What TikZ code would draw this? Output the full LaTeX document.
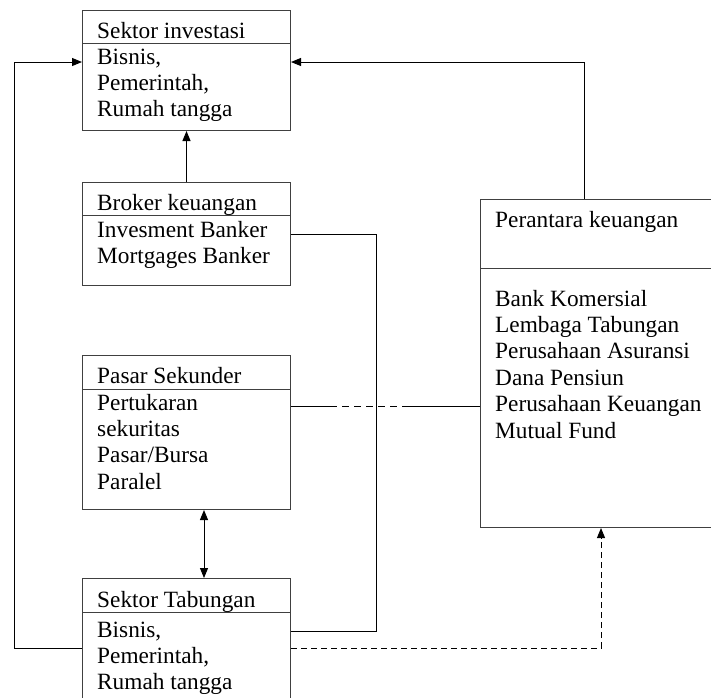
\documentclass[tikz,border=0pt]{standalone}
\usepackage{fontspec}
\setmainfont{Liberation Serif}
\usetikzlibrary{arrows.meta}
\begin{document}
\begin{tikzpicture}[x=1pt,y=-1pt,
  box/.style={draw=black!75, line width=1pt, inner sep=0pt, anchor=north west},
  txt/.style={anchor=base west, inner sep=0pt, font=\fontsize{23.3}{26.4}\selectfont},
  conn/.style={draw=black, line width=1pt},
  arr/.style={conn, -{Triangle[length=10pt,width=8pt]}},
  darr/.style={conn, {Triangle[length=10pt,width=8pt]}-{Triangle[length=10pt,width=8pt]}},
  dsh/.style={conn, dash pattern=on 6pt off 4pt}]
\clip (0,0) rectangle (711,697);
\fill[white] (0,0) rectangle (711,697);
% boxes
\node[box, minimum width=208pt, minimum height=120pt] (inv) at (82,10) {};
\node[box, minimum width=208pt, minimum height=103pt] (broker) at (82,182) {};
\node[box, minimum width=208pt, minimum height=154pt] (pasar) at (82,355) {};
\node[box, minimum width=208pt, minimum height=130pt] (tab) at (82,578) {};
\node[box, minimum width=235pt, minimum height=328pt] (per) at (480,199) {};
% dividers
\draw[draw=black!75, line width=1pt] (inv.west |- 0,43) -- (inv.east |- 0,43);
\draw[draw=black!75, line width=1pt] (broker.west |- 0,215) -- (broker.east |- 0,215);
\draw[draw=black!75, line width=1pt] (pasar.west |- 0,389) -- (pasar.east |- 0,389);
\draw[draw=black!75, line width=1pt] (tab.west |- 0,612) -- (tab.east |- 0,612);
\draw[draw=black!75, line width=1pt] (per.west |- 0,268) -- (per.east |- 0,268);
% texts
\node[txt] (invT) at (97,38) {Sektor investasi};
\node[txt] (invB1) at (97,64) {Bisnis,};
\node[txt] (invB2) at (97,90.4) {Pemerintah,};
\node[txt] (invB3) at (97,116.8) {Rumah tangga};
\node[txt] (brT) at (97,210) {Broker keuangan};
\node[txt] (brB1) at (97,237) {Invesment Banker};
\node[txt] (brB2) at (97,263.4) {Mortgages Banker};
\node[txt] (paT) at (97,383) {Pasar Sekunder};
\node[txt] (paB1) at (97,410) {Pertukaran};
\node[txt] (paB2) at (97,436.4) {sekuritas};
\node[txt] (paB3) at (97,462.8) {Pasar/Bursa};
\node[txt] (paB4) at (97,489.2) {Paralel};
\node[txt] (taT) at (97,607) {Sektor Tabungan};
\node[txt] (taB1) at (97,637) {Bisnis,};
\node[txt] (taB2) at (97,663.4) {Pemerintah,};
\node[txt] (taB3) at (97,689.8) {Rumah tangga};
\node[txt] (peT) at (495,227) {Perantara keuangan};
\node[txt] (peB1) at (495,306) {Bank Komersial};
\node[txt] (peB2) at (495,332.4) {Lembaga Tabungan};
\node[txt] (peB3) at (495,358.8) {Perusahaan Asuransi};
\node[txt] (peB4) at (495,385.2) {Dana Pensiun};
\node[txt] (peB5) at (495,411.6) {Perusahaan Keuangan};
\node[txt] (peB6) at (495,438) {Mutual Fund};
% connectors
\draw[arr] (broker.north) -- (inv.south);
\draw[arr] (tab.west |- 0,648) -- (14,648) -- (14,62) -- (inv.west |- 0,62);
\draw[arr] (per.north -| 584,0) -- (584,62) -- (inv.east |- 0,62);
\draw[conn] (tab.east |- 0,631) -- (376,631) -- (376,234) -- (broker.east |- 0,234);
\draw[dsh, -{Triangle[length=10pt,width=8pt]}] (tab.east |- 0,648) -- (601,648) -- (per.south -| 601,0);
\draw[darr] (pasar.south -| 204,0) -- (tab.north -| 204,0);
\coordinate (d1) at (330,406);
\coordinate (d2) at (405,406);
\draw[conn] (pasar.east |- 0,406) -- (d1);
\draw[conn, dash pattern=on 7pt off 5pt] (d1) -- (d2);
\draw[conn] (d2) -- (per.west |- 0,406);
\end{tikzpicture}
\end{document}
